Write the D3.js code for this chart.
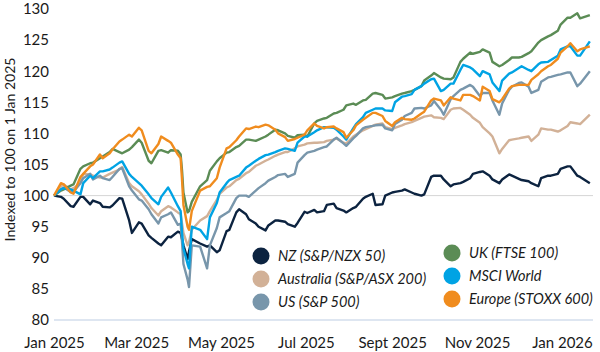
<!DOCTYPE html>
<html>
<head>
<meta charset="utf-8">
<script src="https://cdn.jsdelivr.net/npm/d3@7"></script>
<style>
  body { margin: 0; background: #fff; }
  svg { display: block; font-family: Lato, 'Open Sans', sans-serif; }
</style>
</head>
<body>
<div id="chart"></div>
<script>
// Dates (twice a week, with extra days around the April sell-off)
const dates = [
  '2025-01-01','2025-01-06','2025-01-08','2025-01-13','2025-01-15','2025-01-20','2025-01-22','2025-01-27',
  '2025-01-29','2025-02-03','2025-02-05','2025-02-10','2025-02-12','2025-02-17','2025-02-19','2025-02-24',
  '2025-02-26','2025-03-03','2025-03-05','2025-03-10','2025-03-12','2025-03-17','2025-03-19','2025-03-24',
  '2025-03-26','2025-03-31','2025-04-02',
  '2025-04-03','2025-04-04','2025-04-07','2025-04-08','2025-04-10','2025-04-16','2025-04-21','2025-04-23','2025-04-28',
  '2025-04-30','2025-05-05','2025-05-07','2025-05-12','2025-05-14','2025-05-19','2025-05-21','2025-05-26',
  '2025-05-28','2025-06-02','2025-06-04','2025-06-09','2025-06-11','2025-06-16','2025-06-18','2025-06-23',
  '2025-06-25','2025-06-30','2025-07-02','2025-07-07','2025-07-09','2025-07-14','2025-07-16','2025-07-21',
  '2025-07-23','2025-07-28','2025-07-30','2025-08-04','2025-08-06','2025-08-11','2025-08-13','2025-08-18',
  '2025-08-20','2025-08-25','2025-08-27','2025-09-01','2025-09-03','2025-09-08','2025-09-10','2025-09-15',
  '2025-09-17','2025-09-22','2025-09-24','2025-09-29','2025-10-01','2025-10-06','2025-10-08','2025-10-13',
  '2025-10-15','2025-10-20','2025-10-22','2025-10-27','2025-10-29','2025-11-03','2025-11-05','2025-11-10',
  '2025-11-12','2025-11-17','2025-11-19','2025-11-24','2025-11-26','2025-12-01','2025-12-03','2025-12-08',
  '2025-12-10','2025-12-15','2025-12-17','2025-12-22','2025-12-24','2025-12-29','2025-12-31','2026-01-05',
  '2026-01-07','2026-01-12','2026-01-14','2026-01-21']

const nz = [100, 99.8, 99.5, 98.3, 98.2, 99.8, 99.8, 98.6, 99.2, 98.8, 98.2, 98.1, 98.4, 99.6, 99.5, 96,
  94, 95.7, 95.5, 93.6, 93.2, 92.3, 92, 93.4, 93.3, 94.2, 94,
  93, 92, 89.8, 91, 93, 92.3, 91.8, 92, 90.9,
  91.2, 94.3, 94.5, 97.3, 97.8, 97, 96.2, 95.5, 95, 94.4, 95.2, 96, 96, 95.8, 95.4, 95,
  95.6, 97.4, 97.2, 97.7, 97.3, 97.5, 98.5, 98.7, 98, 97.6, 97.3, 98, 98.2, 99.5, 99.8, 100.3,
  98.5, 98.6, 100, 100.5, 100.6, 100.8, 101, 100.5, 100.3, 100, 100.2, 103, 103.2, 103.2, 102.6, 101.5,
  101.8, 102, 102.2, 102.8, 103.5, 103.8, 103.9, 103.2, 102.6, 102, 102.6, 103.4, 103.2, 102.7, 102.5, 102.3,
  102, 101.5, 102.8, 103.2, 103.2, 103.5, 104.3, 104.7, 104.7, 103.2, 103, 102]

const australia = [100, 101.5, 101.8, 101, 101.2, 102, 103.5, 103.4, 103.2, 102.9, 102.9, 103.5, 103.7, 104.2, 104.6, 102,
  101.5, 100.7, 100.2, 98.7, 98, 96.8, 97.5, 98.3, 98.1, 97.3, 97,
  95.5, 94, 92, 92.5, 94.5, 96, 96.7, 97.5, 99.3,
  100.3, 101.3, 101.5, 102.5, 102.7, 103.6, 103.8, 104.8, 105, 105.6, 105.8, 106.4, 106.6, 107, 107, 107.6,
  107.9, 108.2, 108.4, 108.5, 108.5, 108.6, 108.8, 109, 109.2, 108.5, 108.4, 109.5, 109.8, 110.5, 110.7, 111.2,
  111.4, 111.6, 111, 110.7, 110.9, 111.3, 111.5, 111.8, 112, 112.5, 112.7, 112.9, 112.6, 112.5, 112.3, 113.8,
  114, 114.1, 113.8, 113, 112.5, 111.7, 111, 110, 109.5, 106.8, 107.5, 108.9, 109, 109.2, 109.3, 109.5,
  108.8, 109.8, 110.8, 110.6, 110.6, 110.3, 110.5, 111.2, 111.8, 111.6, 111.5, 113]

const us = [100, 101, 101.3, 100.6, 100.6, 102, 102.8, 103.5, 102.6, 103.2, 102.8, 102.5, 103, 104.3, 104.4, 101.5,
  100.8, 99.4, 99.2, 97.8, 97, 95.5, 96.5, 97, 97.3, 95.3, 95.5,
  92.5, 89, 86.5, 85.3, 92, 91.8, 88.3, 92, 94.8,
  96.5, 97.2, 97.5, 99.6, 100, 100, 99.8, 100.8, 101.2, 102, 102.4, 103, 103.3, 103.5, 103, 103.5,
  105.3, 106.5, 106.9, 107.2, 107.4, 107.8, 107.9, 109, 109.3, 108.4, 108, 109.2, 109.6, 110.8, 111, 111.2,
  111.3, 111.4, 110.8, 110.5, 111.5, 112.2, 112.8, 113.3, 114, 114.1, 114, 114.5, 115.2, 113.8, 113, 115.5,
  116, 117, 117.2, 117.8, 117.5, 116, 116.5, 116.5, 115.3, 113, 114.8, 117, 117.5, 118.1, 118.2, 117.5,
  116.5, 117, 118.3, 119, 119.1, 119.4, 119.5, 119.8, 119.8, 117.6, 118, 120]

const uk = [100, 100.8, 101, 101.6, 101.8, 104.3, 104.7, 105.2, 105.3, 106, 106.3, 107, 107.5, 107, 106.8, 107.4,
  107.8, 109, 108.5, 105.6, 105.2, 107.2, 107.3, 106.9, 107.3, 107.2, 106.6,
  104, 100.5, 97.3, 97.5, 99, 101.5, 102.5, 104, 105.5,
  106, 106.9, 107, 107.8, 108, 109, 109, 108.8, 109, 109.5, 109.8, 110.6, 110.5, 110, 109.6, 109.3,
  109.7, 109.8, 109.5, 111.6, 112, 112.4, 112.5, 113.2, 113.3, 113.8, 114.5, 114.8, 114.6, 115.3, 115.4, 116.4,
  116.5, 116.2, 115.6, 115.8, 116, 116.4, 116.5, 116.8, 117, 117.6, 118.5, 119.3, 119.7, 119, 118.8, 118.7,
  119, 121.5, 122, 123, 122.8, 123.1, 123.5, 123, 121.5, 120.8, 121, 121.8, 122.2, 122.2, 122.3, 122.9,
  123.2, 124.6, 125, 125.6, 125.8, 126.5, 127.5, 128.6, 128.6, 129.3, 128.5, 129]

const msciWorld = [100, 101, 101.2, 101, 100.8, 100.2, 102, 103.2, 102.8, 103.9, 103.9, 104.2, 104.5, 105.3, 105.5, 103.5,
  103, 102, 101.6, 100.2, 99.6, 98.6, 99.8, 101.3, 100.5, 98.3, 97.5,
  94, 91.5, 89, 88.3, 95, 94.5, 93, 96.5, 98.8,
  100.5, 102, 102.5, 103, 103.2, 104.5, 104.8, 105.6, 105.9, 106.5, 106.6, 107, 107.2, 107.6, 107.5, 107.2,
  108.5, 109.5, 109.5, 110.2, 110.5, 111, 111, 110.9, 110.6, 109.5, 109, 110.8, 111.5, 112.6, 113.3, 113.8,
  114, 114, 113.7, 113.6, 115, 115.9, 116, 116.3, 117, 117.6, 118, 118.7, 118.8, 116.8, 117, 118,
  118, 120.2, 121, 120.6, 120.3, 119.2, 120, 119.5, 118.2, 116.8, 118.5, 119.6, 119.8, 120.5, 120.8, 120.2,
  120, 121.1, 121.4, 121.5, 121.8, 122.5, 123.5, 124, 124, 122.5, 122.5, 124.8]

const europe = [100, 102, 101.8, 100.5, 100.3, 103, 103.5, 104.7, 105, 106.6, 106, 106.8, 107.4, 108.7, 109, 109.8,
  109.5, 110.9, 110.5, 107.2, 106.8, 108.3, 109.5, 108.8, 108.5, 106.6, 106,
  102.5, 98.5, 95, 94.5, 97.5, 100.8, 101.4, 101.5, 102.8,
  104.5, 107.6, 107.8, 108.9, 109.5, 110.8, 110.7, 111.1, 111, 111.4, 111.3, 110.6, 110, 109.4, 108.8, 109.1,
  109.3, 109.8, 110.5, 111.6, 111.2, 110.8, 111, 111.1, 110.8, 110.2, 109.3, 110.5, 111.3, 112.2, 112.5, 113.3,
  113.3, 112.8, 112, 111.2, 111.8, 112.5, 112.3, 112.2, 112.4, 113.2, 113.5, 115.3, 115.6, 115.3, 114.5, 115.8,
  115.6, 115.3, 116.2, 116.2, 116, 115.3, 117.5, 116.8, 115.5, 115, 115.5, 117.2, 117.6, 117.8, 117.8, 117.8,
  118.6, 119.5, 120, 120.8, 121, 122, 123, 124, 124.5, 123.2, 123.5, 124]

const seriesNames = ['NZ (S&P/NZX 50)', 'Australia (S&P/ASX 200)', 'US (S&P 500)',
  'UK (FTSE 100)', 'MSCI World', 'Europe (STOXX 600)']
const seriesValues = [nz, australia, us, uk, msciWorld, europe]
const seriesColors = ['#0c2340', '#d2b197', '#7896ab', '#5b8c55', '#00a3e4', '#f08c1e']

const xTickDates = ['2025-01-01','2025-03-01','2025-05-01','2025-07-01','2025-09-01','2025-11-01','2026-01-01']
const xTickLabels = ['Jan 2025', 'Mar 2025', 'May 2025', 'Jul 2025', 'Sept 2025', 'Nov 2025', 'Jan 2026']
const yTicks = [80, 85, 90, 95, 100, 105, 110, 115, 120, 125, 130]

function draw(){
    const parse = d3.utcParse('%Y-%m-%d')
    const dateValues = dates.map(parse)

    const dataset = seriesNames.map((name, i) => ({
        name,
        color: seriesColors[i],
        values: seriesValues[i].map((v, j) => ({ date: dateValues[j], value: v }))
    }))

    const xAccessor = d => d.date
    const yAccessor = d => d.value

    // Chart dimensions
    const dimensions = {
        width: 600,
        height: 352,
        left: 54,
        yearEnd: 562,
        right: 593,
        top: 9,
        bottom: 320
    }

    // Scales
    const xScale = d3.scaleUtc()
        .domain([parse('2025-01-01'), parse('2026-01-01')])
        .range([dimensions.left, dimensions.yearEnd])

    const yScale = d3.scaleLinear()
        .domain([80, 130])
        .range([dimensions.bottom, dimensions.top])

    const svg = d3.select('#chart')
        .append('svg')
        .attr('width', dimensions.width)
        .attr('height', dimensions.height)

    // Reference line at 100 and the baseline
    svg.append('line')
        .attr('x1', dimensions.left)
        .attr('x2', dimensions.right)
        .attr('y1', yScale(100))
        .attr('y2', yScale(100))
        .attr('stroke', '#d6d6d6')
        .attr('stroke-width', 1)

    svg.append('line')
        .attr('x1', dimensions.left)
        .attr('x2', dimensions.right)
        .attr('y1', yScale(80))
        .attr('y2', yScale(80))
        .attr('stroke', '#d3deec')
        .attr('stroke-width', 1.5)

    // Lines
    const lineGenerator = d3.line()
        .x(d => xScale(xAccessor(d)))
        .y(d => yScale(yAccessor(d)))

    svg.append('g')
        .selectAll('path')
        .data(dataset)
        .join('path')
        .attr('d', d => lineGenerator(d.values))
        .attr('fill', 'none')
        .attr('stroke', d => d.color)
        .attr('stroke-width', 2.4)
        .attr('stroke-linejoin', 'round')

    // Axes
    const xAxis = d3.axisBottom(xScale)
        .tickValues(xTickDates.map(parse))
        .tickFormat((d, i) => xTickLabels[i])
        .tickSize(0)
        .tickPadding(17)

    const yAxis = d3.axisLeft(yScale)
        .tickValues(yTicks)
        .tickSize(0)
        .tickPadding(5)

    const xAxisGroup = svg.append('g')
        .attr('transform', `translate(0, ${dimensions.bottom})`)
        .call(xAxis)
    xAxisGroup.select('.domain').remove()
    xAxisGroup.selectAll('text')
        .attr('font-size', 15)
        .attr('font-family', 'Lato')
        .attr('fill', '#1a1a1a')

    const yAxisGroup = svg.append('g')
        .attr('transform', `translate(${dimensions.left}, 0)`)
        .call(yAxis)
    yAxisGroup.select('.domain').remove()
    yAxisGroup.selectAll('text')
        .attr('font-size', 15)
        .attr('font-family', 'Lato')
        .attr('fill', '#1a1a1a')

    svg.append('text')
        .attr('transform', `translate(15, ${(dimensions.top + dimensions.bottom) / 2 - 15}) rotate(-90)`)
        .attr('text-anchor', 'middle')
        .attr('font-size', 14)
        .attr('fill', '#1a1a1a')
        .text('Indexed to 100 on 1 Jan 2025')

    // Legend
    const legendPos = [
        [261, 256], [261, 279], [261, 302],
        [452, 253], [452, 276], [452, 299]
    ]
    const legend = svg.append('g')
        .selectAll('g')
        .data(dataset)
        .join('g')
        .attr('transform', (d, i) => `translate(${legendPos[i][0]}, ${legendPos[i][1]})`)

    legend.append('circle')
        .attr('r', 8.5)
        .attr('fill', d => d.color)

    legend.append('text')
        .attr('x', 17)
        .attr('dy', '0.35em')
        .attr('font-size', 14.5)
        .attr('font-style', 'italic')
        .attr('fill', '#1a1a1a')
        .text(d => d.name)
}
draw()
</script>
</body>
</html>
